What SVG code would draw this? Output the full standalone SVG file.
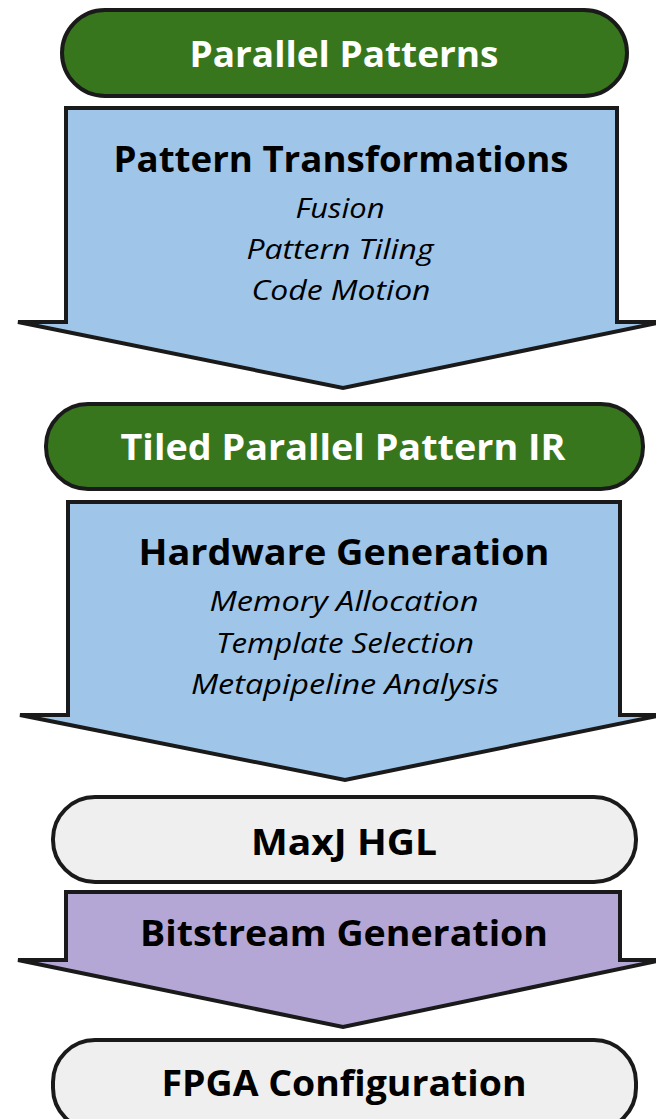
<svg xmlns="http://www.w3.org/2000/svg" width="656" height="1119" viewBox="0 0 656 1119">
<style>
.pill{stroke:#1a1a1a;stroke-width:4}
.green{fill:#38761d}
.grey{fill:#efefef}
.arrow{stroke:#1a1a1a;stroke-width:4;stroke-linejoin:miter}
.blue{fill:#9fc5e8}
.purple{fill:#b4a7d6}
.h{font-family:"Open Sans","Liberation Sans",sans-serif;font-weight:bold;font-size:36px;text-anchor:middle}
.w{fill:#ffffff}
.k{fill:#000000}
.i{font-family:"Open Sans","Liberation Sans",sans-serif;font-style:italic;font-size:28px;text-anchor:middle;fill:#000}
</style>
<rect width="656" height="1119" fill="#ffffff"/>
<g id="connectors">
<g id="arrow-pattern-transformations">
<path class="arrow blue" d="M66,108 L617,108 L617,322 L662,322 L343,388 L18,322 L66,322 Z"/>
<text class="h k" x="341" y="172" textLength="455" lengthAdjust="spacingAndGlyphs">Pattern Transformations</text>
<text class="i" x="340" y="218" textLength="89" lengthAdjust="spacingAndGlyphs">Fusion</text>
<text class="i" x="340" y="259" textLength="187" lengthAdjust="spacingAndGlyphs">Pattern Tiling</text>
<text class="i" x="341" y="300" textLength="179" lengthAdjust="spacingAndGlyphs">Code Motion</text>
</g>
<g id="arrow-hardware-generation">
<path class="arrow blue" d="M68,502 L620,502 L620,715 L662,715 L345,780 L20,715 L68,715 Z"/>
<text class="h k" x="344" y="565" textLength="411" lengthAdjust="spacingAndGlyphs">Hardware Generation</text>
<text class="i" x="344" y="611" textLength="269" lengthAdjust="spacingAndGlyphs">Memory Allocation</text>
<text class="i" x="345" y="653" textLength="258" lengthAdjust="spacingAndGlyphs">Template Selection</text>
<text class="i" x="345" y="694" textLength="308" lengthAdjust="spacingAndGlyphs">Metapipeline Analysis</text>
</g>
<g id="arrow-bitstream-generation">
<path class="arrow purple" d="M66,892 L620,892 L620,960 L662,960 L343,1027 L18,960 L66,960 Z"/>
<text class="h k" x="344" y="946" textLength="408" lengthAdjust="spacingAndGlyphs">Bitstream Generation</text>
</g>
</g>
<g id="node-parallel-patterns">
<rect class="pill green" x="62" y="10" width="565" height="86" rx="43" ry="43"/>
<text class="h w" x="344" y="67" textLength="309" lengthAdjust="spacingAndGlyphs">Parallel Patterns</text>
</g>
<g id="node-tiled-ir">
<rect class="pill green" x="46" y="404" width="597" height="85" rx="42" ry="42"/>
<text class="h w" x="343" y="460" textLength="445" lengthAdjust="spacingAndGlyphs">Tiled Parallel Pattern IR</text>
</g>
<g id="node-maxj">
<rect class="pill grey" x="53" y="797" width="583" height="85" rx="42" ry="42"/>
<text class="h k" x="344" y="855" textLength="186" lengthAdjust="spacingAndGlyphs">MaxJ HGL</text>
</g>
<g id="node-fpga">
<rect class="pill grey" x="53" y="1040" width="583" height="90" rx="42" ry="42"/>
<text class="h k" x="344" y="1096" textLength="365" lengthAdjust="spacingAndGlyphs">FPGA Configuration</text>
</g>
</svg>
